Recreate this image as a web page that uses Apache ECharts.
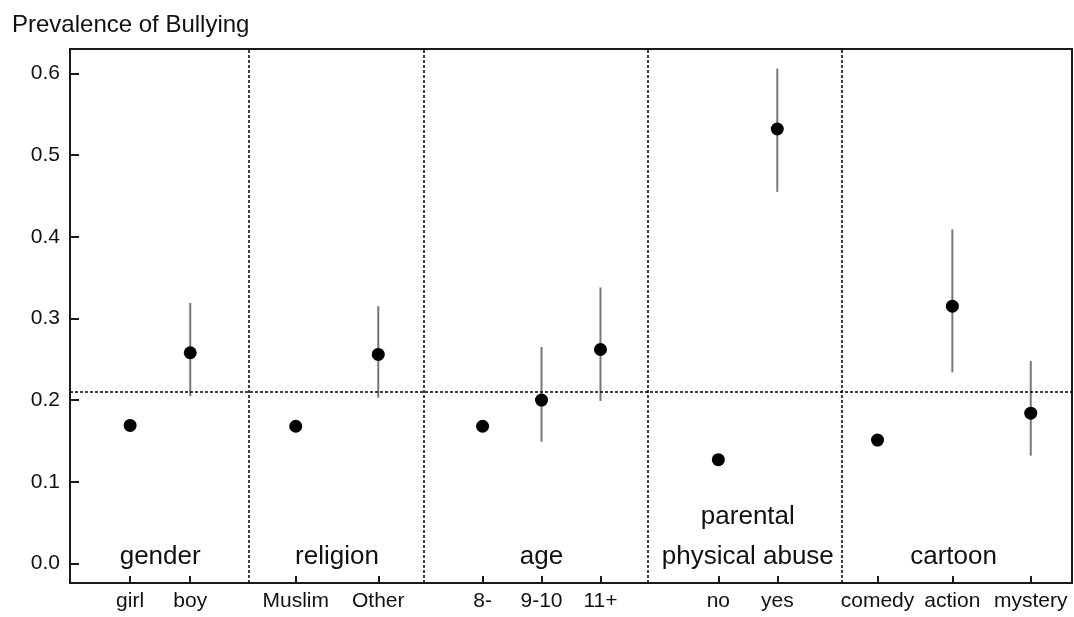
<!DOCTYPE html>
<html>
<head>
<meta charset="utf-8">
<script src="https://cdn.jsdelivr.net/npm/echarts@6/dist/echarts.min.js"></script>
<style>
html,body{margin:0;padding:0;background:#fff;}
#chart{width:1074px;height:617px;}
</style>
</head>
<body>
<div id="chart"></div>
<script>
// ---- data ----
const titleText = 'Prevalence of Bullying';
const categories = ['girl','boy','Muslim','Other','8-','9-10','11+','no','yes','comedy','action','mystery'];
const xPos       = [1.02, 2.04, 3.83, 5.23, 7.0, 8.0, 9.0, 11.0, 12.0, 13.7, 14.97, 16.3];
const prevalence = [0.169, 0.258, 0.168, 0.256, 0.168, 0.200, 0.262, 0.127, 0.532, 0.151, 0.315, 0.184];
const ciLow      = [0.163, 0.205, 0.162, 0.203, 0.162, 0.149, 0.199, 0.121, 0.455, 0.145, 0.234, 0.132];
const ciHigh     = [0.175, 0.319, 0.174, 0.315, 0.174, 0.265, 0.338, 0.133, 0.606, 0.157, 0.409, 0.248];
const groupNames = ['gender','religion','age','parental\nphysical abuse','cartoon'];
const groupMembers = [[0,1],[2,3],[4,5,6],[7,8],[9,10,11]];
const dividers   = [3.03, 6.0, 9.8, 13.1];
const overall    = 0.208;
const yTicks     = [0.0, 0.1, 0.2, 0.3, 0.4, 0.5, 0.6];

const FONT = '"Liberation Sans", Arial, Helvetica, sans-serif';
const groupData = groupNames.map((n, i) => {
  const m = groupMembers[i];
  const c = m.reduce((s, k) => s + xPos[k], 0) / m.length;
  return { name: n, value: [c, 0] };
});

const chart = echarts.init(document.getElementById('chart'));
chart.setOption({
  animation: false,
  backgroundColor: '#fff',
  title: {
    text: titleText, left: 7, top: 8,
    textStyle: { fontFamily: FONT, fontSize: 24, fontWeight: 'normal', color: '#111' }
  },
  grid: {
    left: 70, top: 49, width: 1002, height: 534,
    show: true, borderColor: '#1a1a1a', borderWidth: 2, backgroundColor: '#fff'
  },
  xAxis: {
    type: 'value', min: 0, max: 17,
    axisLine: { show: false, onZero: false },
    splitLine: { show: false },
    axisTick: { show: true, inside: true, length: 7, customValues: xPos, lineStyle: { color: '#1a1a1a', width: 2 } },
    axisLabel: {
      show: true, customValues: xPos, margin: 8,
      fontFamily: FONT, fontSize: 21, color: '#111',
      formatter: v => { const i = xPos.indexOf(v); return i >= 0 ? categories[i] : ''; }
    }
  },
  yAxis: {
    type: 'value', min: -0.024, max: 0.63,
    axisLine: { show: false, onZero: false },
    splitLine: { show: false },
    axisTick: { show: true, inside: true, length: 9, customValues: yTicks, lineStyle: { color: '#1a1a1a', width: 2 } },
    axisLabel: {
      show: true, customValues: yTicks, margin: 10,
      fontFamily: FONT, fontSize: 21, color: '#111',
      formatter: v => v.toFixed(1)
    }
  },
  series: [
    {
      type: 'custom',
      name: 'ci',
      z: 3,
      data: xPos.map((x, i) => [x, ciLow[i], ciHigh[i]]),
      encode: { x: 0, y: [1, 2] },
      renderItem: (params, api) => {
        const p1 = api.coord([api.value(0), api.value(1)]);
        const p2 = api.coord([api.value(0), api.value(2)]);
        return { type: 'line', shape: { x1: p1[0], y1: p1[1], x2: p2[0], y2: p2[1] },
                 style: { stroke: '#777', lineWidth: 2 } };
      },
      markLine: {
        silent: true, symbol: 'none', animation: false,
        label: { show: false },
        lineStyle: { type: [3, 2], color: '#000', width: 1.5, opacity: 1 },
        data: dividers.map(v => ({ xAxis: v })).concat([{ yAxis: overall }])
      }
    },
    {
      type: 'scatter',
      name: 'prevalence',
      z: 4,
      symbol: 'circle', symbolSize: 13,
      itemStyle: { color: '#000', opacity: 1 },
      data: xPos.map((x, i) => [x, prevalence[i]])
    },
    {
      type: 'scatter',
      name: 'groups',
      z: 5,
      symbolSize: 0,
      silent: true,
      itemStyle: { opacity: 1 },
      data: groupData,
      label: {
        show: true, position: 'top', distance: -13,
        formatter: p => p.name,
        fontFamily: FONT, fontSize: 26, color: '#111', opacity: 1, lineHeight: 40, align: 'center'
      }
    }
  ]
});
</script>
</body>
</html>
